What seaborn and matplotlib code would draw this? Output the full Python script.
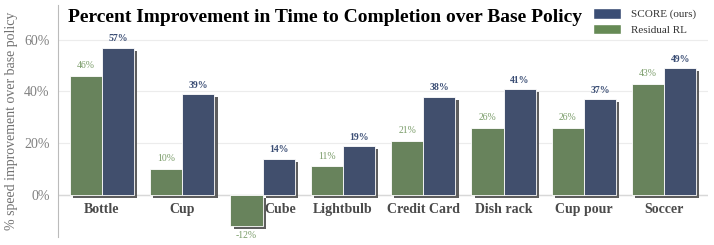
"""
Percent improvement in time to completion over base policy, SCORE vs Residual RL.
"""

import pandas as pd
import matplotlib
matplotlib.use('Agg')
import matplotlib.pyplot as plt
import matplotlib.patheffects as pe
import matplotlib.transforms as mtransforms
from matplotlib.patches import Patch
import seaborn as sns

# Data
tasks = ['Bottle', 'Cup', 'Cube', 'Lightbulb', 'Credit Card', 'Dish rack', 'Cup pour', 'Soccer']
residual_rl = [46, 10, -12, 11, 21, 26, 26, 43]
score_ours = [57, 39, 14, 19, 38, 41, 37, 49]
methods = ['Residual RL', 'SCORE (ours)']

GREEN = '#668a55'
BLUE = '#3a4d74'
GREEN_TXT = '#7a9c69'

df = pd.DataFrame({
    'task': tasks * 2,
    'method': [methods[0]] * len(tasks) + [methods[1]] * len(tasks),
    'value': [v / 100 for v in residual_rl + score_ours],
})

sns.set_style('white')
plt.rcParams['font.family'] = ['Liberation Serif', 'DejaVu Serif']

fig = plt.figure(figsize=(7.14, 2.45), dpi=100)
ax = fig.add_axes([0.081, 0.033, 0.911, 0.947])

sns.barplot(data=df, x='task', y='value', hue='method', hue_order=methods,
            palette=[GREEN, BLUE], width=0.8, edgecolor='white', linewidth=0.6,
            legend=False, ax=ax, zorder=3)

shadow = [pe.SimplePatchShadow(offset=(2.3, -2.2), shadow_rgbFace='#555555', alpha=0.95), pe.Normal()]
for p in ax.patches:
    p.set_path_effects(shadow)

# value labels
ax.bar_label(ax.containers[0], labels=[f'{v}%' for v in residual_rl], padding=4,
             fontsize=7, color=GREEN_TXT)
ax.bar_label(ax.containers[1], labels=[f'{v}%' for v in score_ours], padding=3,
             fontsize=7, color=BLUE, fontweight='bold')

ax.set_ylim(-0.163, 0.735)
ax.set_xlim(-0.55, 7.55)
ax.set_yticks([0, 0.2, 0.4, 0.6])
ax.set_yticklabels(['0%', '20%', '40%', '60%'])
ax.yaxis.grid(True, color='#ececec', linewidth=0.8, zorder=0)
ax.axhline(0, color='#d8d8d8', linewidth=1.0, zorder=1)
ax.set_axisbelow(True)

# x tick labels sit right under the zero line
ax.spines['bottom'].set_position(('data', 0))
for s in ['top', 'right', 'bottom']:
    ax.spines[s].set_visible(False)
ax.spines['left'].set_color('#bbbbbb')
ax.spines['left'].set_linewidth(0.8)

ax.tick_params(axis='y', labelsize=10, labelcolor='#808080', length=3, color='#bbbbbb', pad=3)
ax.tick_params(axis='x', length=0, pad=6)
for lbl in ax.get_xticklabels():
    lbl.set_fontweight('bold')
    lbl.set_fontsize(10)
    lbl.set_color('#4a4a4a')
    lbl.set_zorder(5)
    if lbl.get_text() == 'Cube':
        # nudge right so it clears the negative bar
        lbl.set_transform(lbl.get_transform() +
                          mtransforms.ScaledTranslation(18 / 100, 0, fig.dpi_scale_trans))

ax.set_xlabel('')
ax.set_ylabel('% speed improvement over base policy', fontsize=10, color='#707070', labelpad=4)

fig.text(0.455, 0.93, 'Percent Improvement in Time to Completion over Base Policy',
         ha='center', va='center', fontsize=14, fontweight='bold', color='black')

handles = [Patch(facecolor=BLUE, label='SCORE (ours)'), Patch(facecolor=GREEN, label='Residual RL')]
ax.legend(handles=handles, loc='upper right', bbox_to_anchor=(0.996, 1.03), frameon=False,
          fontsize=8, handlelength=2.5, handleheight=1.1, labelspacing=0.4, handletextpad=0.9,
          labelcolor='#333333')

fig.savefig('out.png', dpi=100)
